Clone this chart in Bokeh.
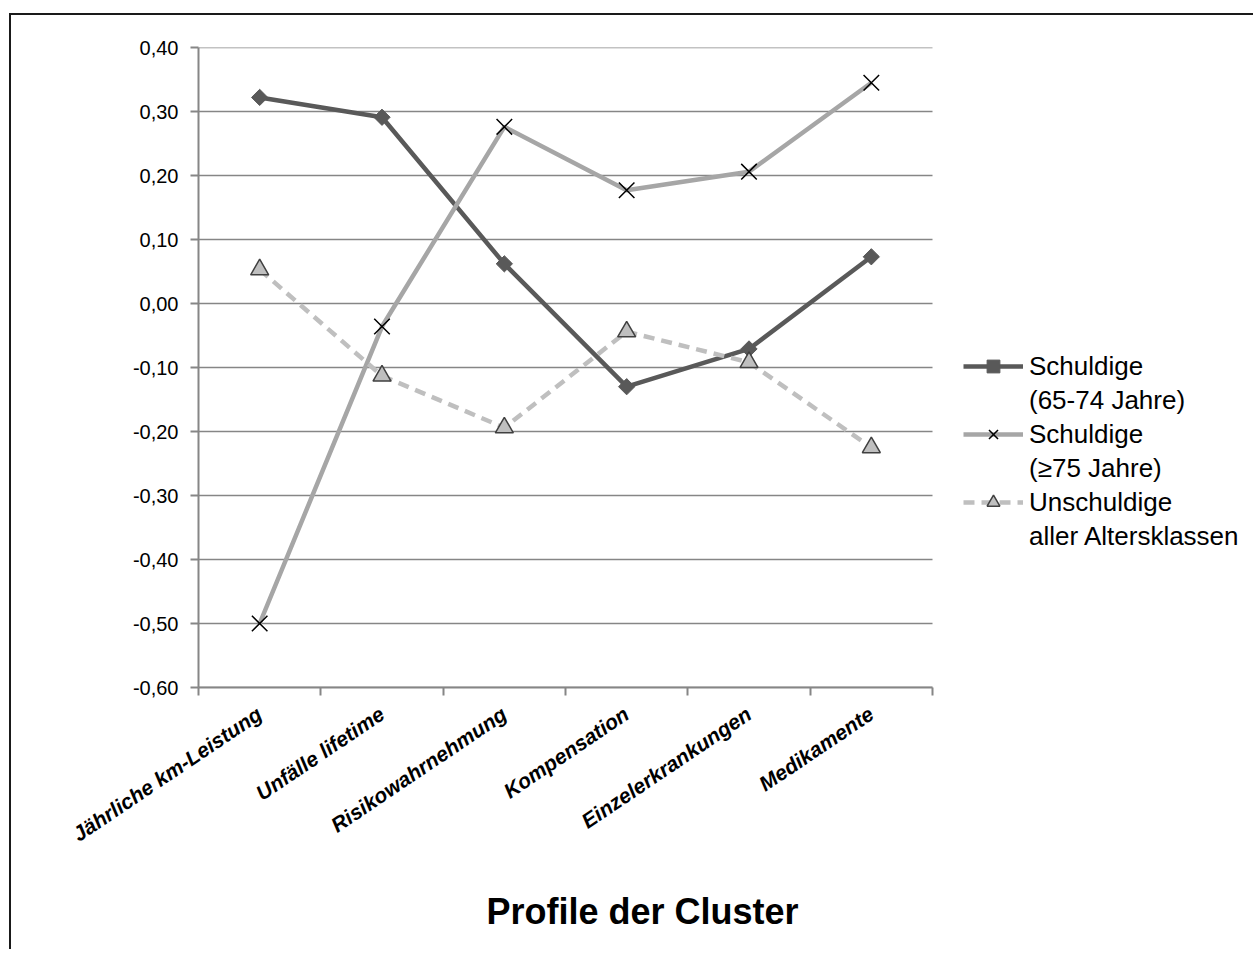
import math
from bokeh.plotting import figure
from bokeh.models import (Range1d, FixedTicker, CustomJSTickFormatter, Legend, LegendItem,
                          LinearAxis)
from bokeh.embed import file_html
from bokeh.resources import INLINE

categories = ["Jährliche km-Leistung", "Unfälle lifetime", "Risikowahrnehmung",
              "Kompensation", "Einzelerkrankungen", "Medikamente"]
series_lines = [["Schuldige", "(65-74 Jahre)"], ["Schuldige", "(≥75 Jahre)"],
                ["Unschuldige", "aller Altersklassen"]]
schuldige_65_74 = [0.322, 0.291, 0.062, -0.130, -0.071, 0.073]
schuldige_75 = [-0.500, -0.036, 0.276, 0.177, 0.206, 0.345]
unschuldige = [0.053, -0.113, -0.194, -0.044, -0.092, -0.225]
y_ticks = [-0.6, -0.5, -0.4, -0.3, -0.2, -0.1, 0.0, 0.1, 0.2, 0.3, 0.4]
x_title = "Profile der Cluster"

n = len(categories)
x_pos = [i + 0.5 for i in range(n)]
x_bounds = [float(i) for i in range(n + 1)]

FONT = "Liberation Sans"
GRID = "#868686"

# layout in pixels (canvas starts at page x=11, y=15)
W, H = 1244, 936
ML, MT, MR, MB = 187, 32, 2, 264
plot_w_px = 734.0                      # pixel width of the category area
frame_w = W - ML - MR
px_per_unit = plot_w_px / n
x_end = frame_w / px_per_unit          # extra room on the right for the legend
title_x = 444.0 / px_per_unit          # where the axis title is centred

p = figure(width=W, height=H, output_backend="svg", toolbar_location=None,
           x_range=Range1d(0, x_end), y_range=Range1d(min(y_ticks), max(y_ticks)),
           min_border_left=ML, min_border_top=MT, min_border_right=MR, min_border_bottom=MB)
p.margin = (13, 0, 0, 9)
p.styles = {"border-top": "2px solid #1a1a1a", "border-left": "2px solid #1a1a1a"}
p.outline_line_color = None
p.background_fill_color = "white"
p.border_fill_color = "white"

# y axis
yax = p.yaxis[0]
yax.ticker = FixedTicker(ticks=y_ticks, minor_ticks=[])
yax.formatter = CustomJSTickFormatter(code="""
if (Math.abs(tick) < 1e-9) { return '0,00'; }
return tick.toFixed(2).replace('.', ',');
""")
yax.axis_line_color = GRID
yax.axis_line_width = 2
yax.major_tick_line_color = GRID
yax.major_tick_line_width = 2
yax.major_tick_out = 8
yax.major_tick_in = 0
yax.major_label_standoff = 12
yax.major_label_text_font = FONT
yax.major_label_text_font_size = "20px"
yax.major_label_text_color = "black"

# x axis with category labels
xax = p.xaxis[0]
xax.bounds = (0, n)
xax.ticker = FixedTicker(ticks=x_pos, minor_ticks=x_bounds)
xax.formatter = CustomJSTickFormatter(args=dict(cats=categories),
                                      code="return cats[Math.floor(tick)] || '';")
xax.axis_line_color = GRID
xax.axis_line_width = 2
xax.major_tick_line_color = None
xax.minor_tick_line_color = GRID
xax.minor_tick_line_width = 2
xax.minor_tick_out = 8
xax.minor_tick_in = 0
xax.major_label_orientation = math.radians(34)
xax.major_label_standoff = 16
xax.major_label_text_font = FONT
xax.major_label_text_font_size = "21px"
xax.major_label_text_font_style = "bold italic"
xax.major_label_text_color = "black"

# axis title, carried by a second bottom axis so that it can sit off-centre
tax = LinearAxis(ticker=FixedTicker(ticks=[title_x], minor_ticks=[]),
                 formatter=CustomJSTickFormatter(args=dict(t=x_title), code="return t;"))
tax.axis_line_color = None
tax.major_tick_line_color = None
tax.minor_tick_line_color = None
tax.major_label_standoff = 26
tax.major_label_text_font = FONT
tax.major_label_text_font_size = "36px"
tax.major_label_text_font_style = "bold"
tax.major_label_text_color = "black"
p.add_layout(tax, "below")

# horizontal grid lines only across the category area
p.xgrid.grid_line_color = None
p.ygrid.grid_line_color = None
p.segment(x0=[0] * len(y_ticks), y0=y_ticks, x1=[n] * len(y_ticks), y1=y_ticks,
          line_color=GRID, line_width=1.5, level="underlay")

# series
l1 = p.line(x_pos, schuldige_65_74, line_color="#595959", line_width=4.5)
l2 = p.line(x_pos, schuldige_75, line_color="#A6A6A6", line_width=4.5)
l3 = p.line(x_pos, unschuldige, line_color="#BFBFBF", line_width=4.5, line_dash="11 7")
m1 = p.scatter(x_pos, schuldige_65_74, marker="square", size=11.5, angle=math.pi / 4,
               fill_color="#595959", line_color="#595959", line_width=1)
m2 = p.scatter(x_pos, schuldige_75, marker="x", size=22, line_color="black", line_width=1.5)
m3 = p.scatter(x_pos, unschuldige, marker="triangle", size=18,
               fill_color="#BFBFBF", line_color="#404040", line_width=1.5)

items = []
for (first, second), rs in zip(series_lines, [[l1, m1], [l2, m2], [l3, m3]]):
    items.append(LegendItem(label=first, renderers=rs))
    items.append(LegendItem(label=second, renderers=[]))

legend = Legend(items=items, location=(765, 135), orientation="vertical")
legend.border_line_color = None
legend.background_fill_alpha = 0
legend.padding = 0
legend.margin = 0
legend.spacing = 2
legend.glyph_width = 60
legend.glyph_height = 32
legend.label_standoff = 6
legend.label_height = 32
legend.label_text_font = FONT
legend.label_text_font_size = "26px"
legend.label_text_line_height = 1.2
legend.label_text_color = "black"
p.add_layout(legend, "center")

open("out.html", "w").write(file_html(p, INLINE))
